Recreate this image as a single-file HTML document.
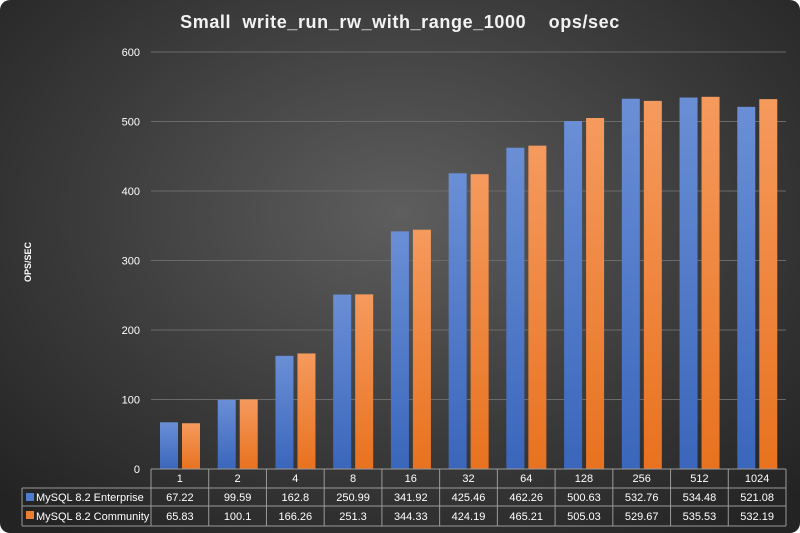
<!DOCTYPE html>
<html><head><meta charset="utf-8"><style>
body{margin:0;background:#fff}
#wrap{width:800px;height:533px;position:relative;overflow:hidden;border-radius:10px;background:radial-gradient(ellipse 70% 75% at 50% 40%,#5e5e5e 0%,#3c3c3c 55%,#232323 100%)}
text{font-family:"Liberation Sans",sans-serif}
</style></head><body>
<div id="wrap">
<svg id="svg" width="800" height="533">
<defs>
<linearGradient id="gb" x1="0" y1="0" x2="0" y2="1"><stop offset="0" stop-color="#6a8fd6"/><stop offset="1" stop-color="#3a66bb"/></linearGradient>
<linearGradient id="go" x1="0" y1="0" x2="0" y2="1"><stop offset="0" stop-color="#f59a5e"/><stop offset="1" stop-color="#e8721f"/></linearGradient>
</defs>
<text x="400" y="28" text-anchor="middle" fill="#f2f2f2" font-size="18" font-weight="bold" letter-spacing="0.6" style="white-space:pre">Small  write_run_rw_with_range_1000    ops/sec</text>
<text transform="translate(31,262) rotate(-90)" text-anchor="middle" fill="#fff" font-size="9" font-weight="bold">OPS/SEC</text>
<g id="grid"></g><g id="bars"></g><g id="table"></g>
</svg></div>
<script>
const categories=["1","2","4","8","16","32","64","128","256","512","1024"];
const enterprise=[67.22,99.59,162.8,250.99,341.92,425.46,462.26,500.63,532.76,534.48,521.08];
const community=[65.83,100.1,166.26,251.3,344.33,424.19,465.21,505.03,529.67,535.53,532.19];
const yTicks=[0,100,200,300,400,500,600];
const NS="http://www.w3.org/2000/svg";
const x0=151,x1=786,yTop=52,yBot=469,yMax=600;
const cw=(x1-x0)/categories.length;
const y=v=>yBot-(v/yMax)*(yBot-yTop);
function el(t,a,p){const e=document.createElementNS(NS,t);for(const k in a)e.setAttribute(k,a[k]);p.appendChild(e);return e;}
const grid=document.getElementById('grid'),bars=document.getElementById('bars'),tb=document.getElementById('table');
yTicks.forEach(v=>{
 if(v>0){const l=el('line',{x1:x0,x2:x1,y1:y(v),y2:y(v),stroke:'#6a6a6a','stroke-width':1},grid);
 }
 const t=el('text',{x:140,y:y(v)+4,'text-anchor':'end',fill:'#fff','font-size':11},grid);t.textContent=v;
 
});
categories.forEach((c,i)=>{
 const cx=x0+cw*i;
 const b=el('rect',{x:cx+9,y:y(enterprise[i]),width:18,height:yBot-y(enterprise[i]),fill:'url(#gb)'},bars);
 
 const o=el('rect',{x:cx+31,y:y(community[i]),width:18,height:yBot-y(community[i]),fill:'url(#go)'},bars);
 
});
const lineC='#9a9a9a';
function ln(a,b,c,d){const l=el('line',{x1:a,y1:b,x2:c,y2:d,stroke:lineC,'stroke-width':1},tb);}
ln(x0,469,x1,469);ln(22,488,x1,488);ln(22,506,x1,506);ln(22,526,x1,526);
ln(22,488,22,526);
for(let i=0;i<=categories.length;i++)ln(x0+cw*i,469,x0+cw*i,526);
function txt(s,x,yy,anchor,name){const t=el('text',{x:x,y:yy,'text-anchor':anchor,fill:'#fff','font-size':11},tb);t.textContent=s;}
categories.forEach((c,i)=>{const mx=x0+cw*(i+0.5);
 txt(c,mx,482,'middle','x-label-'+c);
 txt(String(enterprise[i]),mx,501,'middle','value-enterprise-'+c);
 txt(String(community[i]),mx,520,'middle','value-community-'+c);
});
const k1=el('rect',{x:26,y:493,width:8,height:8,fill:'#4f7bcf'},tb);
const k2=el('rect',{x:26,y:511,width:8,height:8,fill:'#ed7d31'},tb);
txt('MySQL 8.2 Enterprise',36,501,'start','legend-enterprise');
txt('MySQL 8.2 Community',36,520,'start','legend-community');
</script>
</body></html>
